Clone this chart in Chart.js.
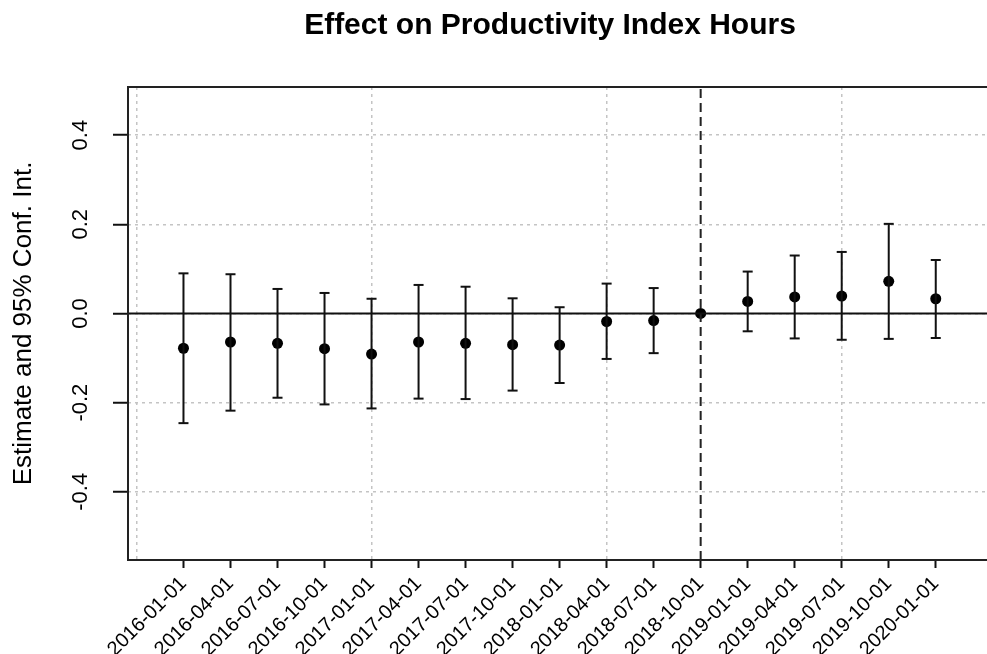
<!DOCTYPE html>
<html>
<head>
<meta charset="utf-8">
<script src="https://cdn.jsdelivr.net/npm/chart.js@4/dist/chart.umd.min.js"></script>
<style>
  html, body { margin: 0; padding: 0; background: #fff; overflow: hidden; }
  #wrap { width: 987px; height: 654px; position: relative; }
</style>
</head>
<body>
<div id="wrap"><canvas id="chart" width="987" height="654"></canvas></div>
<script>
// Event-study estimates by quarter (reference quarter 2018-10-01 fixed at 0)
const quarters = [
  "2016-01-01", "2016-04-01", "2016-07-01", "2016-10-01",
  "2017-01-01", "2017-04-01", "2017-07-01", "2017-10-01",
  "2018-01-01", "2018-04-01", "2018-07-01", "2018-10-01",
  "2019-01-01", "2019-04-01", "2019-07-01", "2019-10-01",
  "2020-01-01"
];
const estimates = [
  -0.078, -0.064, -0.067, -0.079, -0.091, -0.064, -0.067, -0.070, -0.071,
  -0.018, -0.016, 0.000, 0.027, 0.037, 0.039, 0.072, 0.033
];
const upperCI = [
  0.090, 0.088, 0.055, 0.046, 0.033, 0.064, 0.060, 0.034, 0.014,
  0.067, 0.057, null, 0.094, 0.130, 0.138, 0.201, 0.120
];
const lowerCI = [
  -0.246, -0.218, -0.189, -0.204, -0.213, -0.191, -0.192, -0.173, -0.156,
  -0.102, -0.089, null, -0.040, -0.056, -0.059, -0.057, -0.055
];
const yTicks = [-0.4, -0.2, 0.0, 0.2, 0.4];
const xGrid = [0, 5, 10, 15];
const referenceIndex = 12;

const X_MIN = -0.18, X_MAX = 18.09;
const Y_MIN = -0.553, Y_MAX = 0.508;
const FONT = "'Liberation Sans', Arial, Helvetica, sans-serif";

const points = estimates.map((v, i) => ({ x: i + 1, y: v }));
const whiskers = [];
const caps = [];
quarters.forEach((q, i) => {
  if (lowerCI[i] === null || upperCI[i] === null) return;
  whiskers.push({ x: i + 1, y: lowerCI[i] }, { x: i + 1, y: upperCI[i] }, { x: i + 1, y: null });
  caps.push({ x: i + 1, y: lowerCI[i] }, { x: i + 1, y: upperCI[i] });
});

// Frame on top/left/bottom of the plotting region, plus the main title
const framePlugin = {
  id: 'frame',
  afterDraw(chart) {
    const { ctx, chartArea: a } = chart;
    ctx.save();
    ctx.strokeStyle = '#222';
    ctx.lineWidth = 2;
    ctx.beginPath();
    ctx.moveTo(a.right + 2, a.top);
    ctx.lineTo(a.left, a.top);
    ctx.lineTo(a.left, a.bottom);
    ctx.lineTo(a.right + 2, a.bottom);
    ctx.stroke();
    ctx.fillStyle = '#000';
    ctx.font = "bold 30px " + FONT;
    ctx.textAlign = 'center';
    ctx.textBaseline = 'alphabetic';
    ctx.fillText('Effect on Productivity Index Hours', 550, 34);
    ctx.restore();
  }
};

const noSidePadding = s => { s.paddingLeft = 0; s.paddingRight = 0; };

new Chart(document.getElementById('chart'), {
  type: 'scatter',
  data: {
    datasets: [
      {
        label: 'zero',
        type: 'line',
        data: [{ x: X_MIN, y: 0 }, { x: X_MAX, y: 0 }],
        borderColor: '#111',
        borderWidth: 2,
        pointRadius: 0
      },
      {
        label: 'reference',
        type: 'line',
        data: [{ x: referenceIndex, y: Y_MIN }, { x: referenceIndex, y: Y_MAX }],
        borderColor: '#222',
        borderWidth: 2,
        borderDash: [9, 5],
        pointRadius: 0
      },
      {
        label: 'whiskers',
        type: 'line',
        data: whiskers,
        borderColor: '#111',
        borderWidth: 2,
        pointRadius: 0,
        spanGaps: false
      },
      {
        label: 'caps',
        data: caps,
        pointStyle: 'line',
        pointRadius: 5,
        borderColor: '#111',
        borderWidth: 2,
        backgroundColor: '#111'
      },
      {
        label: 'Estimate',
        data: points,
        pointStyle: 'circle',
        pointRadius: 5.5,
        backgroundColor: '#000',
        borderColor: '#000',
        borderWidth: 0
      }
    ]
  },
  options: {
    responsive: false,
    animation: false,
    devicePixelRatio: 1,
    layout: { autoPadding: false, padding: { left: 0, right: 0, top: 87, bottom: 0 } },
    plugins: { legend: { display: false }, tooltip: { enabled: false }, title: { display: false } },
    scales: {
      x: {
        type: 'linear',
        position: 'bottom',
        min: X_MIN,
        max: X_MAX,
        afterBuildTicks: s => { s.ticks = quarters.map((q, i) => ({ value: i + 1 })); },
        afterFit: s => { s.height = 94; noSidePadding(s); },
        ticks: {
          autoSkip: false,
          minRotation: 45,
          maxRotation: 45,
          padding: 4,
          color: '#000',
          font: { family: FONT, size: 20 },
          callback: (v, i) => quarters[i]
        },
        grid: { drawOnChartArea: false, drawTicks: true, tickLength: 8, tickColor: '#111', tickWidth: 2 },
        border: { display: false }
      },
      x2: {
        type: 'linear',
        position: 'bottom',
        min: X_MIN,
        max: X_MAX,
        afterBuildTicks: s => { s.ticks = xGrid.map(v => ({ value: v })); },
        afterFit: s => { s.height = 0; noSidePadding(s); },
        ticks: { display: false },
        grid: { drawTicks: false, color: '#c4c4c4', lineWidth: 1.5 },
        border: { display: false, dash: [3, 4] }
      },
      y: {
        type: 'linear',
        min: Y_MIN,
        max: Y_MAX,
        afterBuildTicks: s => { s.ticks = yTicks.map(v => ({ value: v })); },
        afterFit: s => { s.width = 128; },
        ticks: {
          minRotation: 90,
          maxRotation: 90,
          crossAlign: 'center',
          align: 'end',
          padding: 2,
          color: '#000',
          font: { family: FONT, size: 22 },
          callback: v => v.toFixed(1)
        },
        grid: { color: '#c4c4c4', lineWidth: 1.5, tickLength: 15, tickColor: '#111', tickWidth: 2 },
        border: { display: false, dash: [3, 4] },
        title: {
          display: true,
          text: 'Estimate and 95% Conf. Int.',
          color: '#000',
          font: { family: FONT, size: 26 },
          padding: { top: 8, bottom: 0 }
        }
      }
    }
  },
  plugins: [framePlugin]
});
</script>
</body>
</html>
